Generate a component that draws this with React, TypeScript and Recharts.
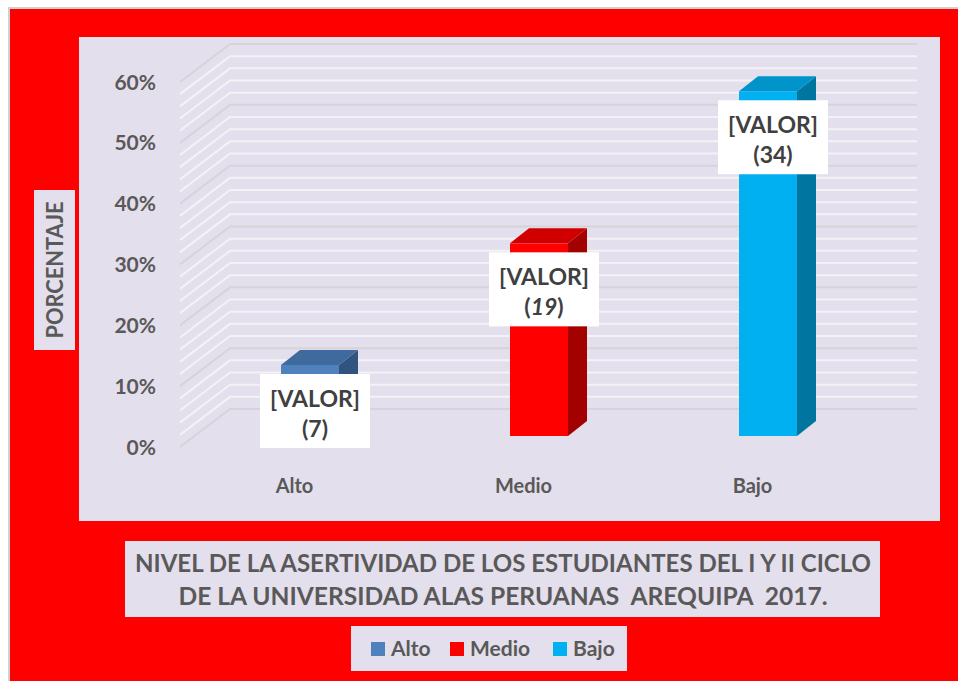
import React from 'react';
import { BarChart, Bar, XAxis, YAxis, CartesianGrid, LabelList } from 'recharts';

const categories = ['Alto', 'Medio', 'Bajo'];
const percentages = [11.67, 31.67, 56.67];
const counts = ['7', '19', '34'];
const countItalic = [false, true, false];
const gridTicks = [0, 2, 4, 6, 8, 10, 12, 14, 16, 18, 20, 22, 24, 26, 28, 30, 32, 34, 36, 38, 40, 42, 44, 46, 48, 50, 52, 54, 56, 58, 60];
const labelTicks = [0, 10, 20, 30, 40, 50, 60];
const titleLines = [
  'NIVEL DE LA ASERTIVIDAD DE LOS ESTUDIANTES DEL I Y II CICLO',
  'DE LA UNIVERSIDAD ALAS PERUANAS  AREQUIPA  2017.',
];
const yTitle = 'PORCENTAJE';
const valueText = '[VALOR]';

const frontColors = ['#4F81BD', '#FF0000', '#00B0F0'];
const topColors = ['#3F6A9E', '#D00000', '#0094CA'];
const sideColors = ['#30537F', '#A30000', '#00759F'];

const data = categories.map((name, i) => ({ name, value: percentages[i], count: counts[i] }));

const FONT = "Lato, 'Open Sans', sans-serif";
const GRAY = '#595959';
const PANEL = '#E4DFEC';

const SHIFT_X = 15;
const SHIFT_Y = -11;
const DEPTH_X = 19;
const DEPTH_Y = 15;
const WALL_X = 50;
const WALL_Y = 38;

const Bar3D = (props: any) => {
  const { x, y, width, height, index } = props;
  if (height == null || height <= 0) return null;
  const fx = x + SHIFT_X;
  const fy = y + SHIFT_Y;
  const w = width;
  const h = height;
  const top = `${fx},${fy} ${fx + DEPTH_X},${fy - DEPTH_Y} ${fx + w + DEPTH_X},${fy - DEPTH_Y} ${fx + w},${fy}`;
  const side = `${fx + w},${fy} ${fx + w + DEPTH_X},${fy - DEPTH_Y} ${fx + w + DEPTH_X},${fy + h - DEPTH_Y} ${fx + w},${fy + h}`;
  return (
    <g>
      <polygon points={side} fill={sideColors[index]} />
      <polygon points={top} fill={topColors[index]} />
      <rect x={fx} y={fy} width={w} height={h} fill={frontColors[index]} />
    </g>
  );
};

const ValueLabel = (props: any) => {
  const vb = props.viewBox || props;
  const { x, y, width } = vb;
  const index = props.index;
  if (x == null) return null;
  const cx = x + SHIFT_X + width / 2 + 5;
  const top = y + SHIFT_Y + 9;
  const bw = 110;
  const bh = 74;
  return (
    <g>
      <rect x={cx - bw / 2} y={top} width={bw} height={bh} fill="#FFFFFF" />
      <text x={cx} y={top + 33} textAnchor="middle" fontFamily={FONT} fontWeight={700} fontSize={23} fill="#404040">
        {valueText}
      </text>
      <text x={cx} y={top + 63} textAnchor="middle" fontFamily={FONT} fontWeight={700} fontSize={23} fill="#404040">
        <tspan>(</tspan>
        <tspan fontStyle={countItalic[index] ? 'italic' : 'normal'}>{counts[index]}</tspan>
        <tspan>)</tspan>
      </text>
    </g>
  );
};

const GridLine = (props: any) => {
  const { x1, x2, y1, index } = props;
  const tickVal = gridTicks[index];
  const major = labelTicks.includes(tickVal);
  return (
    <path
      key={props.key}
      d={`M${x1},${y1} L${x1 + WALL_X},${y1 - WALL_Y} L${x2 + WALL_X},${y1 - WALL_Y}`}
      fill="none"
      stroke={major ? '#D6D3DA' : '#F4F2F6'}
      strokeWidth={2}
    />
  );
};

const XTick = (props: any) => {
  const { x, y, payload } = props;
  return (
    <text x={x} y={y + 46} textAnchor="middle" fontFamily={FONT} fontWeight={700} fontSize={20} fill={GRAY}>
      {payload.value}
    </text>
  );
};

const YTick = (props: any) => {
  const { x, y, payload } = props;
  const v = payload.value;
  if (!labelTicks.includes(v)) return null;
  return (
    <text x={x} y={y} dy="0.36em" textAnchor="end" fontFamily={FONT} fontWeight={700} fontSize={21} fill={GRAY}>
      {`${v}%`}
    </text>
  );
};

const legendX = [371, 450, 553];

export default function App() {
  return (
    <div style={{ position: 'absolute', left: 0, top: 0, width: 958, height: 681 }}>
      <svg width={958} height={681} style={{ position: 'absolute', left: 0, top: 0 }}>
        <rect x={9} y={8} width={950} height={674} fill="#FF0000" stroke="#D0D0D0" strokeWidth={2} />
        <rect x={79} y={37} width={861} height={484} fill={PANEL} />
        <rect x={34} y={190} width={41} height={160} fill={PANEL} />
        <text
          transform="translate(63,270) rotate(-90)"
          textAnchor="middle"
          fontFamily={FONT}
          fontWeight={700}
          fontSize={22}
          fill={GRAY}
          textLength={137}
          lengthAdjust="spacingAndGlyphs"
        >
          {yTitle}
        </text>
        <rect x={125} y={541} width={755} height={76} fill={PANEL} />
        <text x={503} y={572} textAnchor="middle" fontFamily={FONT} fontWeight={700} fontSize={24} fill={GRAY} textLength={736} lengthAdjust="spacingAndGlyphs">
          {titleLines[0]}
        </text>
        <text x={503} y={605} textAnchor="middle" fontFamily={FONT} fontWeight={700} fontSize={24} fill={GRAY} textLength={649} lengthAdjust="spacingAndGlyphs" style={{ whiteSpace: 'pre' }}>
          {titleLines[1]}
        </text>
        <rect x={351} y={626} width={276} height={45} fill={PANEL} />
        {categories.map((c, i) => (
          <g key={c}>
            <rect x={legendX[i]} y={642} width={14} height={14} fill={frontColors[i]} />
            <text x={legendX[i] + 20} y={656} fontFamily={FONT} fontWeight={700} fontSize={21} fill={GRAY}>
              {c}
            </text>
          </g>
        ))}
      </svg>
      <div style={{ position: 'absolute', left: 0, top: 0 }}>
        <BarChart width={958} height={681} data={data} margin={{ top: 82, right: 91, bottom: 204, left: 80 }}>
          <CartesianGrid horizontal={GridLine} vertical={false} />
          <XAxis dataKey="name" axisLine={false} tickLine={false} tickSize={0} tickMargin={0} height={30} tick={XTick} interval={0} />
          <YAxis
            domain={[0, 60]}
            ticks={gridTicks}
            interval={0}
            axisLine={false}
            tickLine={false}
            tickSize={0}
            tickMargin={24}
            width={100}
            tick={YTick}
          />
          <Bar dataKey="value" barSize={58} shape={Bar3D} isAnimationActive={false}>
            <LabelList dataKey="value" content={ValueLabel} />
          </Bar>
        </BarChart>
      </div>
    </div>
  );
}
